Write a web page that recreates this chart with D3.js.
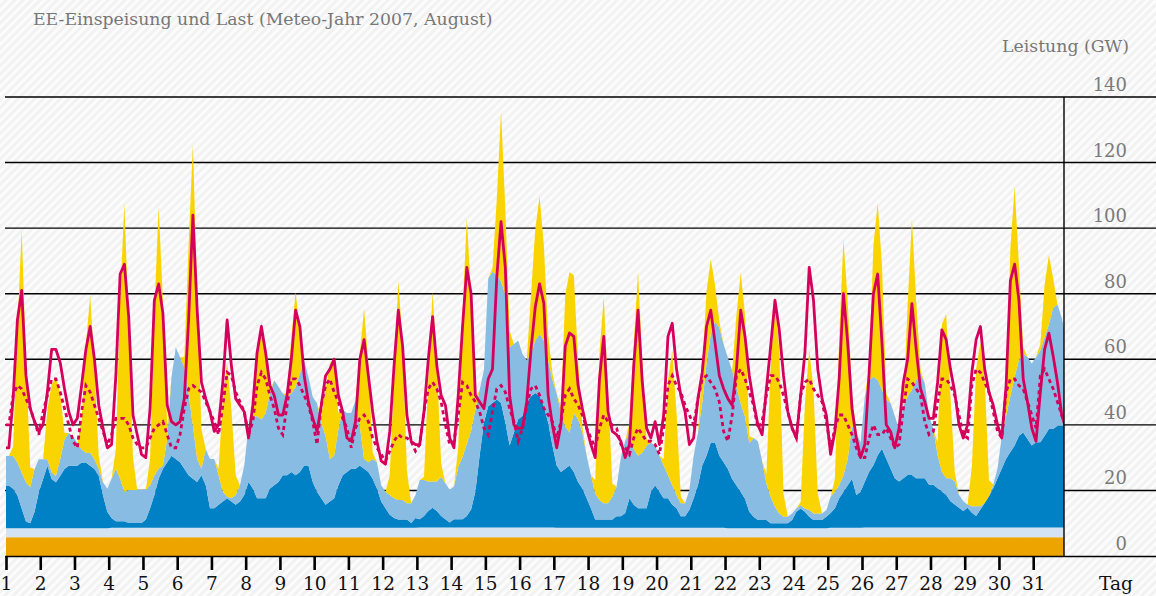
<!DOCTYPE html>
<html>
<head>
<meta charset="utf-8">
<script src="https://d3js.org/d3.v7.min.js"></script>
<style>
body { margin: 0; background: #f3f3f3; }
svg { display: block; }
text { font-family: "DejaVu Serif", serif; }
</style>
</head>
<body>
<script>
// Tageswerte und Achsenbeschriftungen
var tage = d3.range(1, 32)
var yTicks = [0, 20, 40, 60, 80, 100, 120, 140]
var stunden = [2, 5, 8, 11, 14, 17, 20, 23]

var biomasse = [5.7,5.7,5.7,5.7,5.7,5.7,5.7,5.7,5.7,5.7,5.7,5.7,5.7,5.7,5.7,5.7,5.7,5.7,5.7,5.7,5.7,5.7,5.7,5.7,5.7,5.7,5.7,5.7,5.7,5.7,5.7]
var wasser = [2.8,2.8,2.8,2.9,2.9,2.9,2.9,2.9,2.9,2.9,2.9,2.9,3.0,3.0,3.0,3.0,2.9,2.9,2.9,2.9,2.9,2.8,2.8,2.8,2.9,3.0,3.0,3.0,3.0,3.0,3.0]

// 3-Stunden-Werte (GW), je Tag 8 Werte
var windOffshore = [
  13,12,10,6,2,1.5,5,11,
  15,19,15,14,16,18,19,19,
  19,20,20,19,18,16,10,5,
  3,2,2,2,1.5,1.5,1.5,1.5,
  2.5,6,10,15,18,20,22,21,
  20,18,16,15,14,16,13,6,
  6,7,8,9,8,7,8,10,
  14,12,9,9,9,12,13,14,
  16,16,17,16,17,19,19,14,
  11,9,7,8,9,13,16,17,
  18,18,19,18,17,15,12,8,
  6,4,3,2.5,2.5,2.5,1.5,3,
  2.5,3.5,5,6,5,3.5,2.5,1.5,
  2.5,2.5,2.5,3.5,5.5,11,22,32,
  37,38,39,38,32,25,29,33,
  34,38,40,41,40,37,32,25,
  19,17,18,19,17,14,12,9,
  6,2.5,2.5,2.5,2.5,2.5,3.5,3.5,
  4.5,9,7,6,6,6,11,13,
  11,9,9,7,6,3.5,3.5,5.5,
  9,13,19,22,26,26,22,20,
  18,15,13,11,9,5,3.5,2.5,
  2.5,2.5,1.5,1.5,1.5,1.5,1.5,2.5,
  5,6,5,3.5,2.5,2.5,2.5,3.5,
  4.5,6,9,11,13,15,10,11,
  14,17,19,22,24,21,18,15,
  14,15,16,16,15,15,15,13,
  13,12,11,10,8,7,6,5,
  6,4.5,3.5,5.5,7.5,9.5,12,15,
  18,21,23,25,28,29,27,25,
  26,26,28,30,30,31,31,31
]

var windOnshore = [
  9,10,10,11,12,11,13,10,
  6,2,2,2,5,9,10,9,
  7,4,3,4,3,2,4,7,
  12,16,13,9,10,10,10,10,
  9,7,6,3,1,7,24,34,
  32,31,25,16,7,2,11,15,
  15,9,3,0.5,1,3,5,9,
  17,22,25,24,26,29,32,29,
  25,24,24,27,30,32,27,26,
  27,23,21,13,13,17,20,18,
  17,21,12,3,3,6,8,5,
  5,6,6,6,6,5,6,7,
  12,11,9,8,9,12,11,10,
  10,16,19,22,24,25,20,16,
  39,40,38,37,39,30,27,24,
  19,13,13,16,19,20,19,20,
  22,18,13,10,18,19,17,13,
  10,8,6,5,5,7,9,18,
  22,20,17,16,17,19,15,12,
  11,10,7,6,4,4,4,6,
  13,16,19,28,33,37,39,36,
  34,33,30,27,25,21,24,24,
  18,11,8,5,3,2,2,2,
  1,1,1,2,2,2,2,2,
  5,5,4,5,8,16,19,15,
  26,28,27,23,18,18,20,19,
  16,22,24,26,30,32,29,21,
  17,10,6,5,7,7,4,3,
  1,2,3,1,0,0,1,3,
  10,13,17,21,23,24,25,25,
  26,28,30,32,37,37,33,27
]

var photovoltaik = [
  0,3,41,74,37,6,0,0,
  0,15,27,30,20,2,0,0,
  0,9,33,48,28,4,0,0,
  0,6,55,88,50,10,0,0,
  0,8,50,80,50,4,0,0,
  0,3,45,86,50,12,0,0,
  0,2,28,41,27,6,0,0,
  0,2,18,30,19,1,0,0,
  0,1,17,29,13,0,0,0,
  0,2,14,29,30,5,0,0,
  0,0,22,46,30,2,0,0,
  0,6,37,67,48,10,0,0,
  0,1,31,58,36,4,0,0,
  0,6,44,69,41,3,0,0,
  0,1,23,52,26,5,0,0,
  0,0,18,34,42,29,8,2,
  0,2,40,49,42,18,2,0,
  0,4,45,63,34,4,0,0,
  0,3,32,56,28,2,0,0,
  0,2,29,41,25,2,0,0,
  0,0,10,22,23,11,2,0,
  0,0,22,40,31,2,0,0,
  0,3,40,62,50,7,0,0,
  0,1,32,49,38,6,0,0,
  0,4,45,72,48,10,0,0,
  0,4,40,54,38,2,0,0,
  0,0,28,52,24,1,0,0,
  0,4,45,50,25,3,0,0,
  0,12,42,50,38,5,0,0,
  0,6,45,58,29,2,0,0,
  0,2,16,21,9,0,0,0
]

var lastGesamt = [
  33,48,72,81,55,45,41,38,
  40,50,63,63,59,51,44,40,
  42,52,63,70,60,46,39,33,
  34,55,86,89,73,43,37,31,
  30,45,78,83,74,46,41,40,
  41,48,72,104,75,53,48,44,
  38,40,53,72,58,48,46,44,
  36,46,62,70,62,52,49,43,
  43,49,60,75,70,55,47,42,
  38,46,55,57,60,49,44,36,
  35,41,60,66,55,44,35,29,
  28,38,58,75,64,43,35,34,
  34,44,60,73,58,49,46,36,
  33,49,70,88,80,49,47,45,
  54,57,85,102,88,49,40,39,
  39,47,63,76,83,77,49,40,
  33,40,64,68,67,52,45,39,
  34,30,54,67,44,38,37,35,
  30,34,58,75,53,39,36,41,
  34,43,67,71,57,49,44,34,
  36,48,56,70,75,65,55,51,
  48,46,57,75,67,55,47,40,
  37,51,64,78,69,55,44,39,
  36,49,62,88,78,57,48,43,
  31,38,54,80,65,45,36,30,
  34,56,80,86,65,40,38,33,
  39,53,60,77,63,51,47,42,
  42,53,69,66,57,50,40,36,
  40,56,66,70,57,50,46,40,
  36,52,84,89,78,54,47,39,
  35,50,63,68,61,53,43,39
]

var lastKlassisch = [
  40,49,52,51,48,45,41,37,
  44,49,54,54,50,45,40,35,
  33,44,52,50,46,42,38,34,
  37,42,42,42,40,36,34,33,
  33,36,39,40,41,37,33,33,
  37,45,51,52,51,50,47,44,
  41,37,46,56,55,50,47,44,
  37,41,52,56,54,49,45,39,
  37,46,54,54,52,49,46,41,
  34,46,52,54,50,47,42,39,
  33,39,42,43,41,36,33,31,
  29,32,35,37,36,36,35,32,
  34,44,51,53,51,47,40,34,
  35,43,53,52,49,47,44,39,
  37,44,51,52,50,45,41,35,
  39,46,51,52,49,45,43,41,
  36,41,49,51,48,46,43,39,
  36,33,39,43,41,40,39,34,
  33,31,36,39,37,35,35,34,
  31,39,52,55,52,50,46,43,
  40,48,54,55,53,51,47,38,
  35,43,55,57,54,50,46,39,
  41,49,55,55,53,49,44,39,
  36,49,53,54,51,49,47,41,
  33,39,43,43,40,37,33,30,
  30,36,40,37,37,39,36,33,
  34,45,54,53,51,49,41,37,
  38,47,54,54,52,49,43,37,
  36,52,57,56,53,50,44,38,
  36,50,54,54,52,51,47,43,
  39,55,57,54,51,47,43,39
]

var farben = {
  biomasse: "#eda300",
  wasser: "#d3e3f3",
  offshore: "#0080c5",
  onshore: "#88bce2",
  pv: "#f9d400"
}
var magenta = "#d5005c"

var rows = windOffshore.map(function (v, i) {
  var tag = Math.floor(i / 8)
  return {
    h: tag * 24 + stunden[i % 8],
    biomasse: biomasse[tag],
    wasser: wasser[tag],
    offshore: v,
    onshore: windOnshore[i],
    pv: photovoltaik[i],
    last: lastGesamt[i],
    klassisch: lastKlassisch[i]
  }
})
// Ränder bis an den Plotrand ziehen
var pts = [Object.assign({}, rows[0], {h: 0})].concat(rows, [Object.assign({}, rows[rows.length - 1], {h: 744})])

var x = d3.scaleLinear().domain([0, 744]).range([6, 6 + 31 * 34.24])
var y = d3.scaleLinear().domain([0, 140]).range([556, 97])
var xEnd = 1064

var svg = d3.select("body").append("svg")
  .attr("width", 1156)
  .attr("height", 596)

var defs = svg.append("defs")
var pat = defs.append("pattern")
  .attr("id", "schraffur")
  .attr("patternUnits", "userSpaceOnUse")
  .attr("width", 6).attr("height", 6)
  .attr("patternTransform", "rotate(45)")
pat.append("rect").attr("width", 6).attr("height", 6).attr("fill", "#f2f2f2")
pat.append("rect").attr("width", 3).attr("height", 6).attr("fill", "#fcfcfc")

defs.append("clipPath").attr("id", "plotclip")
  .append("rect")
  .attr("x", 5).attr("y", 0)
  .attr("width", xEnd - 5).attr("height", y(0))

svg.append("rect")
  .attr("width", 1156).attr("height", 596)
  .attr("fill", "url(#schraffur)")

// Gitterlinien
svg.append("g").selectAll("line")
  .data(yTicks.filter(d => d > 0))
  .join("line")
  .attr("x1", 5).attr("x2", 1156)
  .attr("y1", d => y(d)).attr("y2", d => y(d))
  .attr("stroke", "#000").attr("stroke-width", 1.4)

var keys = ["biomasse", "wasser", "offshore", "onshore", "pv"]
var stack = d3.stack().keys(keys)(pts)

var area = d3.area()
  .x(d => x(d.data.h))
  .y0(d => y(d[0]))
  .y1(d => y(d[1]))

var plot = svg.append("g").attr("clip-path", "url(#plotclip)")

plot.selectAll("path.layer")
  .data(stack)
  .join("path")
  .attr("class", "layer")
  .attr("fill", d => farben[d.key])
  .attr("d", area)

var lineKlassisch = d3.line().x(d => x(d.h)).y(d => y(d.klassisch))
var lineGesamt = d3.line().x(d => x(d.h)).y(d => y(d.last))

plot.append("path")
  .datum(pts)
  .attr("fill", "none")
  .attr("stroke", magenta)
  .attr("stroke-width", 2.8)
  .attr("stroke-linejoin", "round")
  .attr("d", lineGesamt)

plot.append("path")
  .datum(pts)
  .attr("fill", "none")
  .attr("stroke", magenta)
  .attr("stroke-width", 2.8)
  .attr("stroke-dasharray", "4,3.5")
  .attr("d", lineKlassisch)

// Rahmen rechts und unten
svg.append("line")
  .attr("x1", xEnd).attr("x2", xEnd)
  .attr("y1", y(140)).attr("y2", y(0))
  .attr("stroke", "#000").attr("stroke-width", 1.4)
svg.append("line")
  .attr("x1", 5).attr("x2", 1156)
  .attr("y1", y(0) + 0.5).attr("y2", y(0) + 0.5)
  .attr("stroke", "#000").attr("stroke-width", 1.4)

// y-Beschriftung rechts
svg.append("g").selectAll("text")
  .data(yTicks)
  .join("text")
  .attr("x", 1127)
  .attr("y", d => y(d) - 6)
  .attr("text-anchor", "end")
  .attr("fill", "#7a7a7a")
  .attr("font-size", 18)
  .text(d => d)

// x-Achse
var xAxis = d3.axisBottom(x)
  .tickValues(tage.map(d => (d - 1) * 24))
  .tickFormat((d, i) => tage[i])
  .tickSize(14)

var gx = svg.append("g")
  .attr("transform", "translate(0," + y(0) + ")")
  .call(xAxis)
gx.select(".domain").remove()
gx.selectAll(".tick line").attr("stroke", "#000").attr("stroke-width", 2.6)
gx.selectAll(".tick text")
  .attr("y", 34).attr("dy", 0)
  .attr("fill", "#111")
  .attr("font-size", 18.5)
  .attr("font-family", "DejaVu Serif, serif")

svg.append("text")
  .attr("x", 1116).attr("y", 590)
  .attr("text-anchor", "middle")
  .attr("fill", "#111")
  .attr("font-size", 18.5)
  .text("Tag")

svg.append("text")
  .attr("x", 33).attr("y", 25)
  .attr("fill", "#777")
  .attr("font-size", 17.3)
  .text("EE-Einspeisung und Last (Meteo-Jahr 2007, August)")

svg.append("text")
  .attr("x", 1129).attr("y", 52)
  .attr("text-anchor", "end")
  .attr("fill", "#777")
  .attr("font-size", 17.3)
  .text("Leistung (GW)")
</script>
</body>
</html>
